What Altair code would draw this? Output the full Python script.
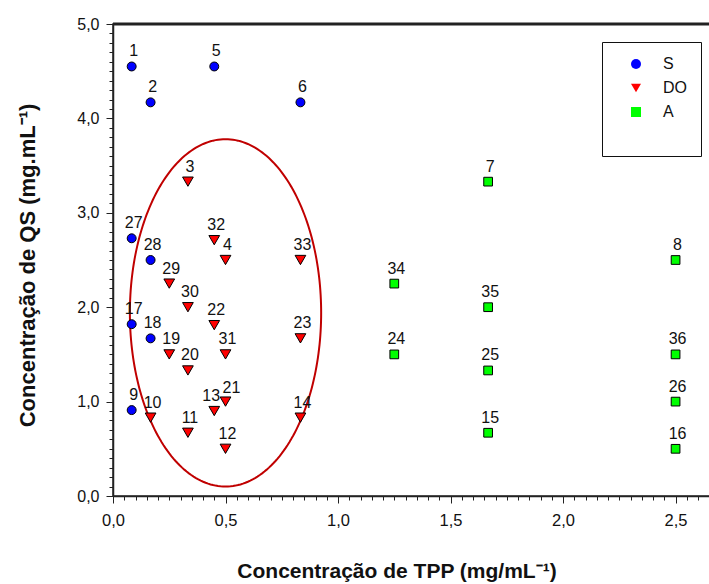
import altair as alt
import pandas as pd
import numpy as np

FONT = "Liberation Sans"

# ---- data ----
s_ids = [1, 2, 5, 6, 27, 28, 17, 18, 9]
s_x = [0.083, 0.167, 0.45, 0.833, 0.083, 0.167, 0.083, 0.167, 0.083]
s_y = [4.55, 4.17, 4.55, 4.17, 2.73, 2.5, 1.82, 1.67, 0.91]

do_ids = [3, 32, 4, 33, 29, 30, 22, 23, 19, 31, 20, 10, 13, 21, 11, 12, 14]
do_x = [0.333, 0.45, 0.5, 0.833, 0.25, 0.333, 0.45, 0.833, 0.25, 0.5, 0.333,
        0.167, 0.45, 0.5, 0.333, 0.5, 0.833]
do_y = [3.33, 2.71, 2.5, 2.5, 2.25, 2.0, 1.81, 1.67, 1.5, 1.5, 1.33,
        0.83, 0.9, 1.0, 0.67, 0.5, 0.83]

a_ids = [7, 8, 34, 35, 24, 36, 25, 26, 15, 16]
a_x = [1.667, 2.5, 1.25, 1.667, 1.25, 2.5, 1.667, 2.5, 1.667, 2.5]
a_y = [3.33, 2.5, 2.25, 2.0, 1.5, 1.5, 1.33, 1.0, 0.67, 0.5]

series_names = ["S", "DO", "A"]
series_fill = ["#0000ff", "#ff0000", "#00ff00"]
series_shape = ["circle", "triangle-down", "square"]
series_size = [80, 115, 76]

ellipse_center = (0.5, 1.94)
ellipse_radii = (0.425, 1.84)

X_MAX = 2.653
Y_MAX = 5.0
x_major = [0.0, 0.5, 1.0, 1.5, 2.0, 2.5]
y_major = [0.0, 1.0, 2.0, 3.0, 4.0, 5.0]
x_minor = [round(i * 0.05, 2) for i in range(54)]
y_minor = [round(i * 0.1, 1) for i in range(51)]

# ---- tables ----
rows = []
for name, ids, xs, ys in zip(series_names, [s_ids, do_ids, a_ids],
                             [s_x, do_x, a_x], [s_y, do_y, a_y]):
    for i, xv, yv in zip(ids, xs, ys):
        rows.append({"id": i, "label": str(i), "x": xv, "y": yv, "serie": name})
pts = pd.DataFrame(rows)

t = np.linspace(0, 2 * np.pi, 241)
ell = pd.DataFrame({
    "x": ellipse_center[0] + ellipse_radii[0] * np.cos(t),
    "y": ellipse_center[1] + ellipse_radii[1] * np.sin(t),
    "o": np.arange(len(t)),
})

xscale = alt.Scale(domain=[0, X_MAX], nice=False, zero=False)
yscale = alt.Scale(domain=[0, Y_MAX], nice=False, zero=False)

comma = "replace(format(datum.value, '.1f'), '.', ',')"

x_axis = alt.Axis(
    orient="bottom", values=x_major, labelExpr=comma, tickSize=7,
    labelOverlap=False, labelBound=False, labelFlush=False,
    labelFont=FONT, labelFontSize=16.5, labelPadding=9, labelColor="#111",
    grid=False, domainColor="#222", domainWidth=1.5, tickColor="#222", tickWidth=1,
    title="Concentração de TPP (mg/mL⁻¹)", titleFont=FONT, titleFontSize=21,
    titleFontWeight="bold", titleX=283.5, titleY=81, titleBaseline="alphabetic",
    titleAlign="center", titleColor="#111",
)
y_axis = alt.Axis(
    orient="left", values=y_major, labelExpr=comma, tickSize=7,
    labelOverlap=False, labelBound=False, labelFlush=False,
    labelFont=FONT, labelFontSize=16, labelPadding=7, labelColor="#111",
    grid=False, domainColor="#222", domainWidth=1.5, tickColor="#222", tickWidth=1,
    title="Concentração de QS (mg.mL⁻¹)", titleFont=FONT, titleFontSize=22,
    titleFontWeight="bold", titleAngle=270, titleX=-79, titleY=241,
    titleBaseline="alphabetic", titleAlign="center", titleColor="#111",
)
x_minor_axis = alt.Axis(orient="bottom", values=x_minor, tickSize=4, labels=False,
                        domain=False, grid=False, title=None, tickColor="#222", tickWidth=1)
y_minor_axis = alt.Axis(orient="left", values=y_minor, tickSize=4, labels=False,
                        domain=False, grid=False, title=None, tickColor="#222", tickWidth=1)

ellipse = alt.Chart(ell).mark_line(color="#c00000", strokeWidth=2).encode(
    x=alt.X("x:Q", scale=xscale, axis=x_axis),
    y=alt.Y("y:Q", scale=yscale, axis=y_axis),
    order="o:Q",
)

top_frame = alt.Chart(pd.DataFrame({"top": [Y_MAX]})).mark_rule(
    color="#222", strokeWidth=3, clip=False
).encode(
    y=alt.Y("top:Q", scale=yscale, axis=None),
)

legend = alt.Legend(
    orient="none", legendX=489, legendY=18,
    title=" ", titleOrient="bottom", titleFontSize=18, titlePadding=4,
    padding=14, symbolOffset=12, labelOffset=19, rowPadding=8,
    labelFont=FONT, labelFontSize=16, labelColor="#111",
    strokeColor="#111", fillColor="white", symbolSize=100,
    symbolStrokeColor="black", symbolStrokeWidth=1,
)

point_layers = []
for k, (name, size) in enumerate(zip(series_names, series_size)):
    point_layers.append(
        alt.Chart(pts).transform_filter(alt.datum.serie == name)
        .mark_point(filled=True, stroke="black", strokeWidth=1, opacity=1, size=size)
        .encode(
            x=alt.X("x:Q", scale=xscale, axis=x_minor_axis if k == 0 else None),
            y=alt.Y("y:Q", scale=yscale, axis=y_minor_axis if k == 0 else None),
            fill=alt.Fill("serie:N", scale=alt.Scale(domain=series_names, range=series_fill), legend=legend),
            shape=alt.Shape("serie:N", scale=alt.Scale(domain=series_names, range=series_shape), legend=legend),
        )
    )

label_nudge = {13: (-5, 0), 21: (4, 1)}
labels = alt.Chart(pts).mark_text(font=FONT, fontSize=16, color="#111", dx=2, dy=-15, baseline="middle").transform_filter(
    "indexof([" + ",".join(str(k) for k in label_nudge) + "], datum.id) < 0"
).encode(x=alt.X("x:Q", scale=xscale, axis=None), y=alt.Y("y:Q", scale=yscale, axis=None), text="label:N")

nudged = []
for k, (ddx, ddy) in label_nudge.items():
    nudged.append(
        alt.Chart(pts).mark_text(font=FONT, fontSize=16, color="#111", dx=2 + ddx, dy=-15 + ddy, baseline="middle")
        .transform_filter(f"datum.id == {k}")
        .encode(x=alt.X("x:Q", scale=xscale, axis=None), y=alt.Y("y:Q", scale=yscale, axis=None), text="label:N")
    )

chart = alt.layer(ellipse, top_frame, *point_layers, labels, *nudged).resolve_axis(
    x="independent", y="independent"
).properties(
    width=597, height=472,
    autosize=alt.AutoSizeParams(type="none"),
    padding={"left": 113, "top": 24, "right": -1, "bottom": 88},
    background="white",
).configure_view(stroke="#222", strokeWidth=1.5)

chart.save("out.html", embed_options={"renderer": "svg", "actions": False})
